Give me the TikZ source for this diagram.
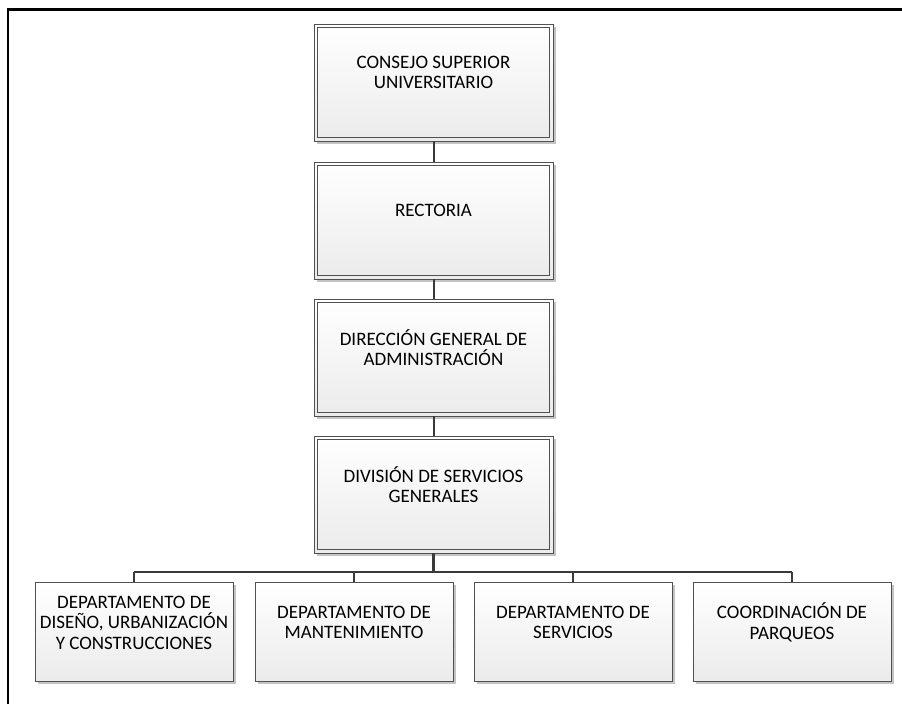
\documentclass[tikz,border=0pt]{standalone}
\usepackage{fontspec}
\setmainfont{Carlito}
\usetikzlibrary{shadows}
\definecolor{boxline}{HTML}{505050}
\definecolor{boxbottom}{HTML}{EBEBEB}
\definecolor{shadowgray}{HTML}{C4C4C4}
\definecolor{connline}{HTML}{3A3A3A}
\begin{document}
\begin{tikzpicture}[x=1pt,y=-1pt,
  box/.style={draw=boxline, line width=0.9pt, top color=white, bottom color=boxbottom,
    drop shadow={shadow xshift=3pt, shadow yshift=-3pt, fill=shadowgray, opacity=1},
    inner sep=0pt},
  topbox/.style={box, minimum width=239pt, minimum height=117pt},
  lowbox/.style={box, minimum width=198pt, minimum height=99pt},
  txt/.style={align=center, font=\fontsize{19}{20.5}\selectfont, text=black, inner sep=0pt},
  conn/.style={draw=connline, line width=2pt},
  drop/.style={draw=connline, line width=1.4pt},
  frame/.style={draw=black, line width=2.2pt}]
\useasboundingbox (0,0) rectangle (902,704);

% page frame (top and left edges)
\draw[frame] (8,704) -- (8,9.5) -- (902,9.5);

% upper chain of offices
\node[topbox, label={[txt, yshift=10pt]center:{CONSEJO SUPERIOR\\UNIVERSITARIO}}] (c1) at (433.5,82.5) {};
\node[topbox, label={[txt, yshift=10pt]center:{RECTORIA}}] (c2) at (433.5,220.5) {};
\node[topbox, label={[txt, yshift=10pt]center:{DIRECCIÓN GENERAL DE\\ADMINISTRACIÓN}}] (c3) at (433.5,357.5) {};
\node[topbox, label={[txt, yshift=10pt]center:{DIVISIÓN DE SERVICIOS\\GENERALES}}] (c4) at (433.5,494.5) {};

% inner rule of the double frame
\foreach \n in {c1,c2,c3,c4}
  \draw[boxline, line width=0.9pt] ([xshift=4pt,yshift=-4pt]\n.north west) rectangle ([xshift=-4pt,yshift=4pt]\n.south east);

% departments
\node[lowbox, label={[txt, yshift=9pt]center:{DEPARTAMENTO DE\\DISEÑO, URBANIZACIÓN\\Y CONSTRUCCIONES}}] (d1) at (134,631.5) {};
\node[lowbox, label={[txt, yshift=9pt]center:{DEPARTAMENTO DE\\MANTENIMIENTO}}] (d2) at (354,631.5) {};
\node[lowbox, label={[txt, yshift=9pt]center:{DEPARTAMENTO DE\\SERVICIOS}}] (d3) at (573,631.5) {};
\node[lowbox, label={[txt, yshift=9pt]center:{COORDINACIÓN DE\\PARQUEOS}}] (d4) at (792,631.5) {};

% connectors
\draw[conn] (c1.south) -- (c2.north);
\draw[conn] (c2.south) -- (c3.north);
\draw[conn] (c3.south) -- (c4.north);
\draw[conn, line width=2.4pt] (c4.south) -- ++(0,19) coordinate (bus);
\draw[conn] (d1.north |- bus) -- (d4.north |- bus);
\foreach \d in {d1,d2,d3,d4}
  \draw[drop] (\d.north |- bus) -- (\d.north);
\end{tikzpicture}
\end{document}
